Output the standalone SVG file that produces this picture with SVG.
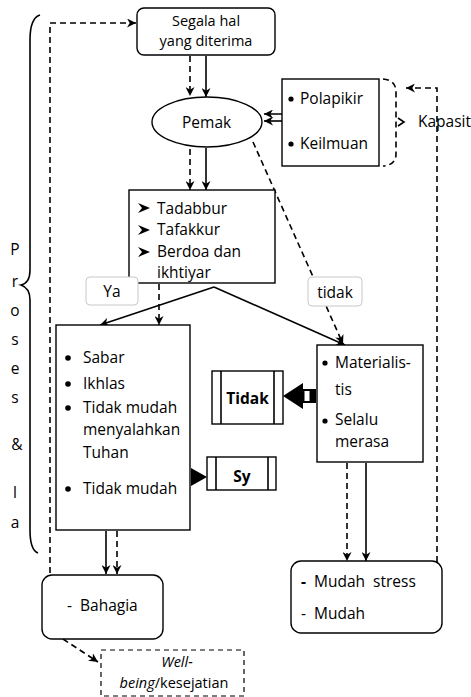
<svg xmlns="http://www.w3.org/2000/svg" width="471" height="697" viewBox="0 0 471 697">
<defs>
<style>
text{font-family:"Open Sans","Noto Sans","Liberation Sans",sans-serif;font-size:15.5px;fill:#000}
.b{font-weight:bold}
.sm{font-size:14.5px}
.box{fill:#fff;stroke:#000;stroke-width:1.4}
.ln{fill:none;stroke:#000;stroke-width:1.6}
.ds{fill:none;stroke:#000;stroke-width:1.6;stroke-dasharray:6,4}
.lbl{fill:#fff;stroke:#c8c8c8;stroke-width:1}
</style>
<marker id="ah" viewBox="0 0 10 10" refX="10" refY="5" markerWidth="9" markerHeight="9" markerUnits="userSpaceOnUse" orient="auto">
<path d="M0,0 L10,5 L0,10 L3,5 z" fill="#000"/>
</marker>
</defs>
<rect width="471" height="697" fill="#fff"/>

<g id="brace-left">
<path class="ln" d="M40 15 Q30 18 30 40 L30 270 Q30 283 21 285 Q30 288 30 300 L30 530 Q30 550 38 553" stroke-width="1.3"/>
<text x="15" y="255" text-anchor="middle">P</text>
<text x="15" y="287" text-anchor="middle">r</text>
<text x="15" y="316" text-anchor="middle">o</text>
<text x="15" y="345" text-anchor="middle">s</text>
<text x="15" y="374" text-anchor="middle">e</text>
<text x="15" y="403" text-anchor="middle">s</text>
<text x="17" y="450" text-anchor="middle">&amp;</text>
<text x="15" y="498" text-anchor="middle">l</text>
<text x="15" y="528" text-anchor="middle">a</text>
</g>

<g id="connectors">
<path class="ds" d="M50 573 L50 23 L136 23" marker-end="url(#ah)"/>
<path class="ds" d="M190 56 L190 96" marker-end="url(#ah)"/>
<path class="ln" d="M206 56 L206 97" marker-end="url(#ah)"/>
<path class="ds" d="M190 149 L190 190" marker-end="url(#ah)"/>
<path class="ln" d="M206 148 L206 190" marker-end="url(#ah)"/>
<path class="ln" d="M282 114 L264 114" stroke-dasharray="12,3" marker-end="url(#ah)"/>
<path class="ln" d="M282 121 L264 121" marker-end="url(#ah)"/>
<path class="ds" d="M437 562 L437 88 L406 88" marker-end="url(#ah)"/>
<path class="ds" d="M253 142 L343 344" marker-end="url(#ah)"/>
<path class="ln" d="M214 287 L100 325" marker-end="url(#ah)"/>
<path class="ln" d="M214 287 L345 345" marker-end="url(#ah)"/>
<path class="ds" d="M159 284 L159 325" marker-end="url(#ah)"/>
<path class="ln" d="M106 531 L106 574" marker-end="url(#ah)"/>
<path class="ds" d="M117 531 L117 574" marker-end="url(#ah)"/>
<path class="ds" d="M347 463 L347 561" marker-end="url(#ah)"/>
<path class="ln" d="M366 463 L366 561" marker-end="url(#ah)"/>
<path class="ds" d="M63 639 L98 662" marker-end="url(#ah)"/>
<path d="M283 396 L303 383 L303 409 z" fill="#000"/>
<rect x="303" y="389" width="13" height="14" fill="#000"/>
<rect x="304.5" y="391" width="5" height="10" fill="#fff"/>
<path d="M207 477 L191 468 L191 486 z" fill="#000"/>
</g>

<g id="node-segala">
<rect class="box" x="137" y="8" width="138" height="47" rx="7" stroke-width="1.6"/>
<text class="sm" x="206" y="26" text-anchor="middle">Segala hal</text>
<text class="sm" x="206" y="46" text-anchor="middle">yang diterima</text>
</g>

<g id="node-pemak">
<ellipse class="box" cx="207" cy="122" rx="55" ry="25"/>
<text x="182" y="128">Pemak</text>
</g>

<g id="node-polapikir">
<rect class="box" x="282" y="79" width="97" height="87"/>
<circle cx="291" cy="99" r="2.6"/>
<text x="300" y="104">Polapikir</text>
<circle cx="291" cy="144" r="2.6"/>
<text x="300" y="149">Keilmuan</text>
</g>

<g id="node-kapasit">
<path class="ds" d="M383 79 Q396 80 396 92 L396 154 Q396 165 383 166" stroke-width="1.4"/>
<path class="ln" d="M398 118 L404 122 L398 126" stroke-width="1.2"/>
<text x="418" y="127">Kapasit</text>
</g>

<g id="node-tadabbur">
<rect class="box" x="129" y="190" width="146" height="93"/>
<g fill="#000">
<path d="M138 203 L150 208 L138 213 L142 208 z"/>
<path d="M138 225 L150 230 L138 235 L142 230 z"/>
<path d="M138 247 L150 252 L138 257 L142 252 z"/>
</g>
<text x="157" y="214">Tadabbur</text>
<text x="157" y="235">Tafakkur</text>
<text x="157" y="257">Berdoa dan</text>
<text x="157" y="278">ikhtiyar</text>
</g>

<g id="label-ya">
<rect class="lbl" x="86" y="277" width="52" height="28" rx="4"/>
<text x="112" y="297" text-anchor="middle">Ya</text>
</g>

<g id="label-tidak">
<rect class="lbl" x="308" y="277" width="54" height="29" rx="4"/>
<text x="335" y="298" text-anchor="middle">tidak</text>
</g>

<g id="node-sabar">
<rect class="box" x="56" y="325" width="134" height="205"/>
<circle cx="68" cy="358" r="2.8"/>
<text x="83" y="363">Sabar</text>
<circle cx="68" cy="384" r="2.8"/>
<text x="83" y="389">Ikhlas</text>
<circle cx="68" cy="408" r="2.8"/>
<text x="83" y="413">Tidak mudah</text>
<text x="83" y="435">menyalahkan</text>
<text x="83" y="458">Tuhan</text>
<circle cx="68" cy="489" r="2.8"/>
<text x="83" y="494">Tidak mudah</text>
</g>

<g id="node-materialistis">
<rect class="box" x="317" y="345" width="106" height="117"/>
<circle cx="325" cy="363" r="2.6"/>
<text x="335" y="368">Materialis-</text>
<text x="335" y="395">tis</text>
<circle cx="325" cy="421" r="2.6"/>
<text x="335" y="425">Selalu</text>
<text x="335" y="447">merasa</text>
</g>

<g id="node-tidak">
<rect class="box" x="212" y="371" width="71" height="53"/>
<line class="ln" x1="221" y1="371" x2="221" y2="424" stroke-width="1.2"/>
<line class="ln" x1="274" y1="371" x2="274" y2="424" stroke-width="1.2"/>
<text class="b" x="247.5" y="404" text-anchor="middle">Tidak</text>
</g>

<g id="node-sy">
<rect class="box" x="207" y="457" width="69" height="33"/>
<line class="ln" x1="216" y1="457" x2="216" y2="490" stroke-width="1.2"/>
<line class="ln" x1="268" y1="457" x2="268" y2="490" stroke-width="1.2"/>
<text class="b" x="242" y="482" text-anchor="middle">Sy</text>
</g>

<g id="node-bahagia">
<rect class="box" x="42" y="575" width="121" height="64" rx="10"/>
<text x="67" y="611">-</text>
<text x="80" y="611">Bahagia</text>
</g>

<g id="node-wellbeing">
<rect x="101" y="650" width="143" height="46" fill="#fff" stroke="#000" stroke-width="1.2" stroke-dasharray="5,4"/>
<text class="sm" x="177" y="667" text-anchor="middle" font-style="italic">Well-</text>
<text class="sm" x="174" y="688" text-anchor="middle"><tspan font-style="italic">being</tspan>/kesejatian</text>
</g>

<g id="node-stress">
<rect class="box" x="291" y="561" width="151" height="72" rx="10"/>
<text x="301" y="587" class="b">-</text>
<text x="314" y="587" xml:space="preserve">Mudah  stress</text>
<text x="301" y="619">-</text>
<text x="314" y="619">Mudah</text>
</g>
</svg>
